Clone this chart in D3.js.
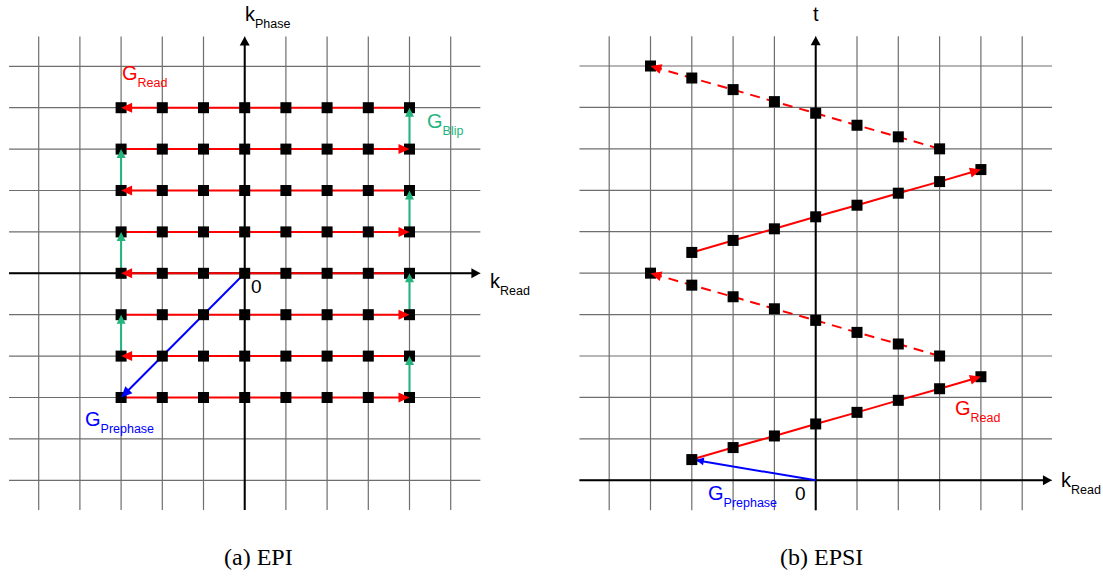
<!DOCTYPE html>
<html>
<head>
<meta charset="utf-8">
<script src="https://cdn.jsdelivr.net/npm/d3@7"></script>
<style>
  html, body { margin: 0; padding: 0; background: #fff; }
  svg { display: block; }
  text { font-family: "Liberation Sans", Arial, sans-serif; }
  .caption { font-family: "Liberation Serif", "Times New Roman", serif; }
</style>
</head>
<body>
<svg id="fig" width="1103" height="577"></svg>
<script>
// ---- grid (in k-space units) ----
const gridIdx = [-5, -4, -3, -2, -1, 0, 1, 2, 3, 4, 5];
const epsiGridT = [0, 1, 2, 3, 4, 5, 6, 7, 8, 9, 10];

// ---- (a) EPI trajectory ----
const epiKx = [-3, -2, -1, 0, 1, 2, 3, 4];
const epiKy = [4, 3, 2, 1, 0, -1, -2, -3];
// readout lines: [ky, kx start, kx end]
const epiReadouts = [
  [-3, -3, 4], [-2, 4, -3], [-1, -3, 4], [0, 4, -3],
  [1, -3, 4], [2, 4, -3], [3, -3, 4], [4, 4, -3]
];
// phase blips: [kx, ky start, ky end]
const epiBlips = [
  [4, -3, -2], [-3, -2, -1], [4, -1, 0], [-3, 0, 1],
  [4, 1, 2], [-3, 2, 3], [4, 3, 4]
];
const epiPrephase = [[0, 0], [-3, -3]];

// ---- (b) EPSI trajectory: kx positions and time of each sample ----
const epsiKxFwd = [-3, -2, -1, 0, 1, 2, 3, 4];
const epsiKxRev = [3, 2, 1, 0, -1, -2, -3, -4];
const epsiT1 = [0.5, 0.79, 1.07, 1.36, 1.64, 1.93, 2.21, 2.5];
const epsiT2 = [3.0, 3.29, 3.57, 3.86, 4.14, 4.43, 4.71, 5.0];
const epsiT3 = [5.5, 5.79, 6.07, 6.36, 6.64, 6.93, 7.21, 7.5];
const epsiT4 = [8.0, 8.29, 8.57, 8.86, 9.14, 9.43, 9.71, 10.0];
const epsiPrephase = [[0, 0], [-3, 0.5]];

const RED = "#ff0000", GREEN = "#24b47e", BLUE = "#0000ff", GRID = "#6e6e6e";
const ext = 0.72; // how far grid lines run past the outer cells

const svg = d3.select("#fig");

// filled triangular arrowhead whose tip sits at (x2,y2), pointing away from (x1,y1)
function arrowHead(g, x1, y1, x2, y2, len, half, color) {
  const a = Math.atan2(y2 - y1, x2 - x1);
  const bx = x2 - len * Math.cos(a), by = y2 - len * Math.sin(a);
  const px = -Math.sin(a) * half, py = Math.cos(a) * half;
  g.append("path")
    .attr("d", `M${x2},${y2}L${bx + px},${by + py}L${bx - px},${by - py}Z`)
    .attr("fill", color);
}

function subLabel(g, x, y, main, sub, color, mainSize) {
  const t = g.append("text").attr("x", x).attr("y", y).attr("fill", color)
    .style("font-size", (mainSize || 20) + "px");
  t.append("tspan").text(main);
  t.append("tspan").attr("dy", 7).style("font-size", "12.5px").text(sub);
}

function drawGrid(g, x, y, xDom, yDom, yVals) {
  const xr = [x(xDom[0] - ext), x(xDom[1] + ext)];
  const yr = [y(yDom[0] - ext), y(yDom[1] + ext)];
  g.append("g").selectAll("line").data(gridIdx).join("line")
    .attr("x1", d => x(d)).attr("x2", d => x(d))
    .attr("y1", yr[0]).attr("y2", yr[1])
    .attr("stroke", GRID).attr("stroke-width", 1.2);
  g.append("g").selectAll("line").data(yVals).join("line")
    .attr("y1", d => y(d)).attr("y2", d => y(d))
    .attr("x1", xr[0]).attr("x2", xr[1])
    .attr("stroke", GRID).attr("stroke-width", 1.2);
  return { xr, yr };
}

function axesWithArrows(g, x, y, xr, yr) {
  const y0 = y(0), x0 = x(0);
  g.append("line").attr("x1", xr[0]).attr("x2", xr[1] - 6).attr("y1", y0).attr("y2", y0)
    .attr("stroke", "#000").attr("stroke-width", 2);
  arrowHead(g, xr[0], y0, xr[1], y0, 9, 5, "#000");
  g.append("line").attr("x1", x0).attr("x2", x0).attr("y1", yr[0]).attr("y2", yr[1] + 6)
    .attr("stroke", "#000").attr("stroke-width", 2);
  arrowHead(g, x0, yr[0], x0, yr[1], 9, 5, "#000");
}

function squares(g, pts) {
  g.append("g").selectAll("rect").data(pts).join("rect")
    .attr("x", d => d[0] - 5.5).attr("y", d => d[1] - 5.5)
    .attr("width", 11).attr("height", 11).attr("fill", "#000");
}

// ================= (a) EPI =================
{
  const x = d3.scaleLinear().domain([-5, 5]).range([38.7, 450.7]);
  const y = d3.scaleLinear().domain([-5, 5]).range([480.3, 66.3]);
  const g = svg.append("g");
  const { xr, yr } = drawGrid(g, x, y, [-5, 5], [-5, 5], gridIdx);
  axesWithArrows(g, x, y, xr, yr);

  const lines = g.append("g");
  epiReadouts.forEach(([ky, a, b]) => {
    lines.append("line").attr("x1", x(a)).attr("x2", x(b)).attr("y1", y(ky)).attr("y2", y(ky))
      .attr("stroke", RED).attr("stroke-width", 2);
  });
  epiBlips.forEach(([kx, a, b]) => {
    lines.append("line").attr("x1", x(kx)).attr("x2", x(kx)).attr("y1", y(a)).attr("y2", y(b) + 4)
      .attr("stroke", GREEN).attr("stroke-width", 2);
  });
  const [p0, p1] = epiPrephase;
  lines.append("line").attr("x1", x(p0[0])).attr("y1", y(p0[1]))
    .attr("x2", x(p1[0]) + 4).attr("y2", y(p1[1]) - 4)
    .attr("stroke", BLUE).attr("stroke-width", 2);

  const pts = [];
  epiKy.forEach(ky => epiKx.forEach(kx => pts.push([x(kx), y(ky)])));
  squares(g, pts);

  const heads = g.append("g");
  epiReadouts.forEach(([ky, a, b]) => arrowHead(heads, x(a), y(ky), x(b), y(ky), 11, 5, RED));
  epiBlips.forEach(([kx, a, b]) => arrowHead(heads, x(kx), y(a), x(kx), y(b), 9, 4.5, GREEN));
  arrowHead(heads, x(p0[0]), y(p0[1]), x(p1[0]), y(p1[1]), 11, 5, BLUE);

  // labels
  subLabel(g, 245, 21, "k", "Phase", "#000", 20);
  subLabel(g, 490, 288, "k", "Read", "#000", 20);
  subLabel(g, 122, 80, "G", "Read", RED);
  subLabel(g, 427, 128, "G", "Blip", GREEN);
  subLabel(g, 85, 426, "G", "Prephase", BLUE);
  g.append("text").attr("x", 251).attr("y", 293).style("font-size", "19px").text("0");
}

// ================= (b) EPSI =================
{
  const x = d3.scaleLinear().domain([-5, 5]).range([609.2, 1022.2]);
  const y = d3.scaleLinear().domain([0, 10]).range([480.3, 66]);
  const g = svg.append("g");
  const { xr, yr } = drawGrid(g, x, y, [-5, 5], [0, 10], epsiGridT);
  axesWithArrows(g, x, y, xr, yr);

  const trains = [
    { kx: epsiKxFwd, t: epsiT1, dash: null },
    { kx: epsiKxRev, t: epsiT2, dash: "10,7" },
    { kx: epsiKxFwd, t: epsiT3, dash: null },
    { kx: epsiKxRev, t: epsiT4, dash: "10,7" }
  ];
  const line = d3.line();

  const [p0, p1] = epsiPrephase;
  g.append("line").attr("x1", x(p0[0])).attr("y1", y(p0[1]))
    .attr("x2", x(p1[0])).attr("y2", y(p1[1]))
    .attr("stroke", BLUE).attr("stroke-width", 2);
  arrowHead(g, x(p0[0]), y(p0[1]), x(p1[0]) + 4, y(p1[1]) + 0.5, 8, 4, BLUE);

  trains.forEach(tr => {
    const pts = tr.kx.map((k, i) => [x(k), y(tr.t[i])]);
    g.append("path").attr("d", line(pts)).attr("fill", "none")
      .attr("stroke", RED).attr("stroke-width", 2)
      .attr("stroke-dasharray", tr.dash);
  });

  trains.forEach(tr => squares(g, tr.kx.map((k, i) => [x(k), y(tr.t[i])])));

  trains.forEach(tr => {
    const n = tr.kx.length;
    arrowHead(g, x(tr.kx[n - 2]), y(tr.t[n - 2]), x(tr.kx[n - 1]), y(tr.t[n - 1]), 11, 5, RED);
  });

  g.append("text").attr("x", 813).attr("y", 21).style("font-size", "20px").text("t");
  subLabel(g, 1061, 487, "k", "Read", "#000", 20);
  subLabel(g, 955, 415, "G", "Read", RED);
  subLabel(g, 708, 500, "G", "Prephase", BLUE);
  g.append("text").attr("x", 795).attr("y", 500).style("font-size", "19px").text("0");
}

// captions
svg.append("text").attr("class", "caption").attr("x", 224).attr("y", 565)
  .style("font-size", "24px").text("(a)  EPI");
svg.append("text").attr("class", "caption").attr("x", 780).attr("y", 565)
  .style("font-size", "24px").text("(b)  EPSI");
</script>
</body>
</html>
